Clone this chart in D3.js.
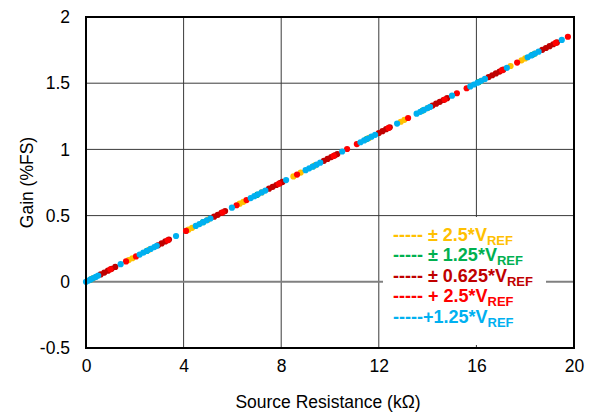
<!DOCTYPE html>
<html>
<head>
<meta charset="utf-8">
<script src="https://cdn.jsdelivr.net/npm/d3@7"></script>
<style>
  body { margin: 0; background: #fff; }
  text { font-family: "Liberation Sans", Arial, sans-serif; }
</style>
</head>
<body>
<div id="chart"></div>
<script>
// ---- data ----
const xTicks = [0, 4, 8, 12, 16, 20];
const yTicks = [-0.5, 0, 0.5, 1, 1.5, 2];

// [source resistance kΩ, gain %FS]
const yellowPts = [
  [0.3, 0.028], [1.75, 0.164], [1.9, 0.178], [2.6, 0.244], [4.2, 0.394], [4.35, 0.408],
  [5.0, 0.469], [6.3, 0.590], [6.45, 0.604], [7.2, 0.675], [8.5, 0.796], [8.8, 0.825],
  [9.4, 0.881], [11.6, 1.087], [12.9, 1.209], [13.05, 1.223], [14.0, 1.312], [16.2, 1.518],
  [17.4, 1.630], [17.85, 1.673], [18.0, 1.687], [18.4, 1.724]
];
const greenPts = [
  [0.2, 0.019], [2.5, 0.234], [4.8, 0.450], [7.0, 0.656], [9.3, 0.871],
  [11.5, 1.078], [13.8, 1.293], [16.1, 1.509], [18.3, 1.715]
];
const darkRedPts = [
  [0.6, 0.056], [0.75, 0.070], [0.9, 0.084], [1.05, 0.098], [1.2, 0.112],
  [2.95, 0.276], [3.1, 0.290], [3.25, 0.305], [3.4, 0.319],
  [5.25, 0.492], [5.4, 0.506], [5.55, 0.520], [5.7, 0.534],
  [7.5, 0.703], [7.65, 0.717], [7.8, 0.731], [7.95, 0.745], [8.05, 0.754],
  [9.75, 0.914], [9.9, 0.928], [10.05, 0.942], [10.2, 0.956], [10.3, 0.965],
  [12.0, 1.124], [12.15, 1.138], [12.3, 1.153], [12.45, 1.167],
  [14.2, 1.331], [14.35, 1.345], [14.5, 1.359], [14.65, 1.373], [14.8, 1.387],
  [16.5, 1.546], [16.65, 1.560], [16.8, 1.574], [16.95, 1.588], [17.1, 1.602],
  [18.7, 1.752], [18.85, 1.766], [19.0, 1.780], [19.15, 1.794], [19.3, 1.808]
];
const redPts = [
  [1.0, 0.094], [1.64, 0.154], [2.05, 0.192], [3.35, 0.314], [4.1, 0.384], [5.6, 0.525],
  [6.17, 0.578], [6.58, 0.617], [7.9, 0.740], [8.65, 0.810], [10.15, 0.951], [10.7, 1.003],
  [11.1, 1.040], [12.4, 1.162], [13.2, 1.237], [14.7, 1.377], [15.2, 1.424], [15.6, 1.462],
  [17.05, 1.598], [17.67, 1.656], [19.25, 1.804], [19.75, 1.851]
];
const bluePts = [
  [0, 0.000], [0.1, 0.009], [0.2, 0.019], [0.3, 0.028], [0.4, 0.037], [0.5, 0.047],
  [1.42, 0.133],
  [2.2, 0.206], [2.35, 0.220], [2.5, 0.234], [2.65, 0.248], [2.8, 0.262], [2.9, 0.272],
  [3.69, 0.346],
  [4.5, 0.422], [4.65, 0.436], [4.8, 0.450], [4.95, 0.464], [5.1, 0.478],
  [5.98, 0.560],
  [6.75, 0.632], [6.9, 0.647], [7.05, 0.661], [7.2, 0.675], [7.35, 0.689],
  [8.2, 0.768],
  [9.0, 0.843], [9.15, 0.857], [9.3, 0.871], [9.45, 0.885], [9.6, 0.900],
  [10.5, 0.984],
  [11.25, 1.054], [11.4, 1.068], [11.55, 1.082], [11.7, 1.096], [11.85, 1.110],
  [12.75, 1.195],
  [13.55, 1.270], [13.7, 1.284], [13.85, 1.298], [14.0, 1.312], [14.1, 1.321],
  [15.0, 1.406],
  [15.75, 1.476], [15.9, 1.490], [16.05, 1.504], [16.2, 1.518], [16.35, 1.532],
  [17.25, 1.616],
  [18.1, 1.696], [18.25, 1.710], [18.4, 1.724], [18.55, 1.738],
  [19.5, 1.827]
];

const seriesNames = ["± 2.5*V", "± 1.25*V", "± 0.625*V", "+ 2.5*V", "+1.25*V"];
const seriesColors = ["#FFC000", "#00B050", "#C00000", "#FF0000", "#00B0F0"];
const seriesData = [yellowPts, greenPts, darkRedPts, redPts, bluePts];

// ---- layout ----
const width = 595, height = 412;
const margin = { top: 17, right: 21, bottom: 64, left: 86 };
const innerW = width - margin.left - margin.right;
const innerH = height - margin.top - margin.bottom;

const svg = d3.select("#chart").append("svg")
  .attr("width", width)
  .attr("height", height);

const g = svg.append("g")
  .attr("transform", `translate(${margin.left},${margin.top})`);

const x = d3.scaleLinear().domain([0, 20]).range([0, innerW]);
const y = d3.scaleLinear().domain([-0.5, 2]).range([innerH, 0]);

// gridlines
g.append("g")
  .selectAll("line")
  .data(yTicks.filter(d => d !== 0))
  .join("line")
  .attr("x1", 0).attr("x2", innerW)
  .attr("y1", d => y(d)).attr("y2", d => y(d))
  .attr("stroke", "#3a3a3a").attr("stroke-width", 1);

g.append("g")
  .selectAll("line")
  .data(xTicks)
  .join("line")
  .attr("x1", d => x(d)).attr("x2", d => x(d))
  .attr("y1", 0).attr("y2", innerH)
  .attr("stroke", "#3a3a3a").attr("stroke-width", 1);

// zero line
g.append("line")
  .attr("x1", 0).attr("x2", innerW)
  .attr("y1", y(0)).attr("y2", y(0))
  .attr("stroke", "#808080").attr("stroke-width", 2);

// data points
seriesData.forEach((pts, i) => {
  g.append("g")
    .selectAll("circle")
    .data(pts)
    .join("circle")
    .attr("cx", d => x(d[0]))
    .attr("cy", d => y(d[1]))
    .attr("r", 3.1)
    .attr("fill", seriesColors[i]);
});

// plot border
g.append("rect")
  .attr("width", innerW).attr("height", innerH)
  .attr("fill", "none")
  .attr("stroke", "#000").attr("stroke-width", 2);

// axes (labels only)
const xAxis = g.append("g")
  .attr("transform", `translate(0,${innerH})`)
  .call(d3.axisBottom(x).tickValues(xTicks).tickSize(0).tickPadding(12).tickFormat(d3.format("d")));
xAxis.select(".domain").remove();
xAxis.selectAll("text").attr("font-size", 17.5).attr("fill", "#000")
  .attr("font-family", "Liberation Sans, Arial, sans-serif");

const yAxis = g.append("g")
  .call(d3.axisLeft(y).tickValues(yTicks).tickSize(0).tickPadding(16).tickFormat(d => String(d)));
yAxis.select(".domain").remove();
yAxis.selectAll("text").attr("font-size", 17.5).attr("fill", "#000")
  .attr("font-family", "Liberation Sans, Arial, sans-serif");

// axis titles
svg.append("text")
  .attr("x", margin.left + innerW / 2 - 2)
  .attr("y", 408)
  .attr("text-anchor", "middle")
  .attr("font-size", 17.5)
  .text("Source Resistance (kΩ)");

svg.append("text")
  .attr("transform", `translate(33,${margin.top + innerH / 2}) rotate(-90)`)
  .attr("text-anchor", "middle")
  .attr("font-size", 17.5)
  .text("Gain (%FS)");

// legend
const legend = g.append("g");
legend.append("rect")
  .attr("x", 383 - margin.left).attr("y", 217 - margin.top)
  .attr("width", 163).attr("height", 128)
  .attr("fill", "#fff");

seriesNames.forEach((name, i) => {
  const t = legend.append("text")
    .attr("x", 393 - margin.left)
    .attr("y", 240.5 - margin.top + i * 20.6)
    .attr("font-size", 18)
    .attr("font-weight", "bold")
    .attr("fill", seriesColors[i]);
  t.append("tspan").text((i === 4 ? "-----" : "----- ") + name);
  t.append("tspan")
    .attr("font-size", 13)
    .attr("dy", 4)
    .text("REF");
});
</script>
</body>
</html>
